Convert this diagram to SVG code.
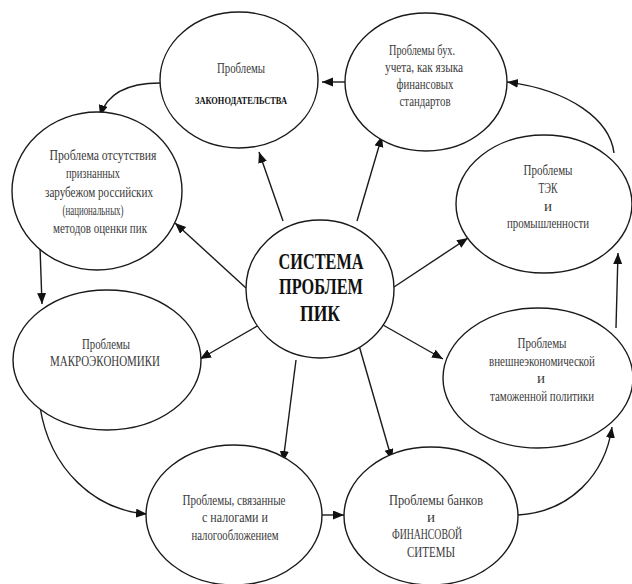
<svg xmlns="http://www.w3.org/2000/svg" width="632" height="584" viewBox="0 0 632 584" font-family="'Liberation Serif', 'Times New Roman', serif">
<defs>
<style>
.n{fill:#fff;stroke:#1a1a1a;stroke-width:1.4}
.t{font-family:'Liberation Serif','Times New Roman',serif;font-size:15px;fill:#3a3a3a;text-anchor:middle}
.b{font-weight:bold;fill:#111}
.h{font-size:23px}
.s{font-size:10.5px}
.c{fill:none;stroke:#1a1a1a;stroke-width:1.4;marker-end:url(#ah)}
</style>
<marker id="ah" markerWidth="12" markerHeight="10" refX="11" refY="4.5" orient="auto" markerUnits="userSpaceOnUse">
<path d="M0,0 L11,4.5 L0,9 Z" fill="#111"/>
</marker>
</defs>
<rect width="632" height="584" fill="#fff"/>
<g id="connectors">
<path class="c" d="M283,221 L259,152"/>
<path class="c" d="M357,221 L382,136"/>
<path class="c" d="M394,287 L468,238"/>
<path class="c" d="M383,325 L443,359"/>
<path class="c" d="M358,342 L392,460"/>
<path class="c" d="M296,360 L283,462"/>
<path class="c" d="M259,325 L200,359"/>
<path class="c" d="M246,288 L175,223"/>
<path class="c" d="M345,82 L322,82"/>
<path class="c" d="M160,83 Q110,83 100,116"/>
<path class="c" d="M40,247 L42,304"/>
<path class="c" d="M40,407 C50,470 95,510 147,514"/>
<path class="c" d="M322,515 L344,515"/>
<path class="c" d="M518,515 C570,512 605,475 612,427"/>
<path class="c" d="M616,328 L618,253"/>
<path class="c" d="M614,153 C610,120 570,90 507,82"/>
</g>
<g id="center">
<ellipse class="n" cx="320" cy="289" rx="74" ry="69"/>
<text class="t b h" x="321" y="269" textLength="85" lengthAdjust="spacingAndGlyphs">СИСТЕМА</text>
<text class="t b h" x="321" y="294" textLength="84" lengthAdjust="spacingAndGlyphs">ПРОБЛЕМ</text>
<text class="t b h" x="320" y="321" textLength="40" lengthAdjust="spacingAndGlyphs">ПИК</text>
</g>
<g id="zakon">
<ellipse class="n" cx="239" cy="80" rx="79" ry="68"/>
<text class="t" x="241" y="73" textLength="48" lengthAdjust="spacingAndGlyphs">Проблемы</text>
<text class="t b s" x="241" y="104" textLength="92" lengthAdjust="spacingAndGlyphs">ЗАКОНОДАТЕЛЬСТВА</text>
</g>
<g id="buh">
<ellipse class="n" cx="426" cy="82" rx="81" ry="69"/>
<text class="t" x="422" y="55" textLength="66" lengthAdjust="spacingAndGlyphs">Проблемы бух.</text>
<text class="t" x="424" y="72" textLength="78" lengthAdjust="spacingAndGlyphs">учета, как языка</text>
<text class="t" x="425" y="89" textLength="57" lengthAdjust="spacingAndGlyphs">финансовых</text>
<text class="t" x="425" y="106" textLength="51" lengthAdjust="spacingAndGlyphs">стандартов</text>
</g>
<g id="tek">
<ellipse class="n" cx="544" cy="204" rx="88" ry="69"/>
<text class="t" x="548" y="175" textLength="49" lengthAdjust="spacingAndGlyphs">Проблемы</text>
<text class="t" x="548" y="193" textLength="19" lengthAdjust="spacingAndGlyphs">ТЭК</text>
<text class="t" x="548" y="211">и</text>
<text class="t" x="548" y="228" textLength="82" lengthAdjust="spacingAndGlyphs">промышленности</text>
</g>
<g id="otsutstvie">
<ellipse class="n" cx="97" cy="191" rx="85" ry="79"/>
<text class="t" x="103" y="160" textLength="107" lengthAdjust="spacingAndGlyphs">Проблема отсутствия</text>
<text class="t" x="93" y="178" textLength="54" lengthAdjust="spacingAndGlyphs">признанных</text>
<text class="t" x="99" y="197" textLength="108" lengthAdjust="spacingAndGlyphs">зарубежом российских</text>
<text class="t" x="93" y="215" textLength="61" lengthAdjust="spacingAndGlyphs">(национальных)</text>
<text class="t" x="100" y="233" textLength="94" lengthAdjust="spacingAndGlyphs">методов оценки пик</text>
</g>
<g id="makro">
<ellipse class="n" cx="107" cy="360" rx="94" ry="70"/>
<text class="t" x="106" y="349" textLength="48" lengthAdjust="spacingAndGlyphs">Проблемы</text>
<text class="t" x="105" y="366" textLength="110" lengthAdjust="spacingAndGlyphs">МАКРОЭКОНОМИКИ</text>
</g>
<g id="nalogi">
<ellipse class="n" cx="234" cy="515" rx="88" ry="70"/>
<text class="t" x="234" y="505" textLength="103" lengthAdjust="spacingAndGlyphs">Проблемы, связанные</text>
<text class="t" x="235" y="522" textLength="66" lengthAdjust="spacingAndGlyphs">с налогами и</text>
<text class="t" x="235" y="540" textLength="87" lengthAdjust="spacingAndGlyphs">налогообложением</text>
</g>
<g id="banki">
<ellipse class="n" cx="431" cy="516" rx="87" ry="69"/>
<text class="t" x="436" y="505" textLength="94" lengthAdjust="spacingAndGlyphs">Проблемы банков</text>
<text class="t" x="431" y="522">и</text>
<text class="t" x="427" y="539" textLength="70" lengthAdjust="spacingAndGlyphs">ФИНАНСОВОЙ</text>
<text class="t" x="431" y="557" textLength="48" lengthAdjust="spacingAndGlyphs">СИТЕМЫ</text>
</g>
<g id="vneshn">
<ellipse class="n" cx="538" cy="378" rx="95" ry="70"/>
<text class="t" x="542" y="348" textLength="49" lengthAdjust="spacingAndGlyphs">Проблемы</text>
<text class="t" x="542" y="366" textLength="106" lengthAdjust="spacingAndGlyphs">внешнеэкономической</text>
<text class="t" x="541" y="383">и</text>
<text class="t" x="542" y="401" textLength="104" lengthAdjust="spacingAndGlyphs">таможенной политики</text>
</g>
</svg>
